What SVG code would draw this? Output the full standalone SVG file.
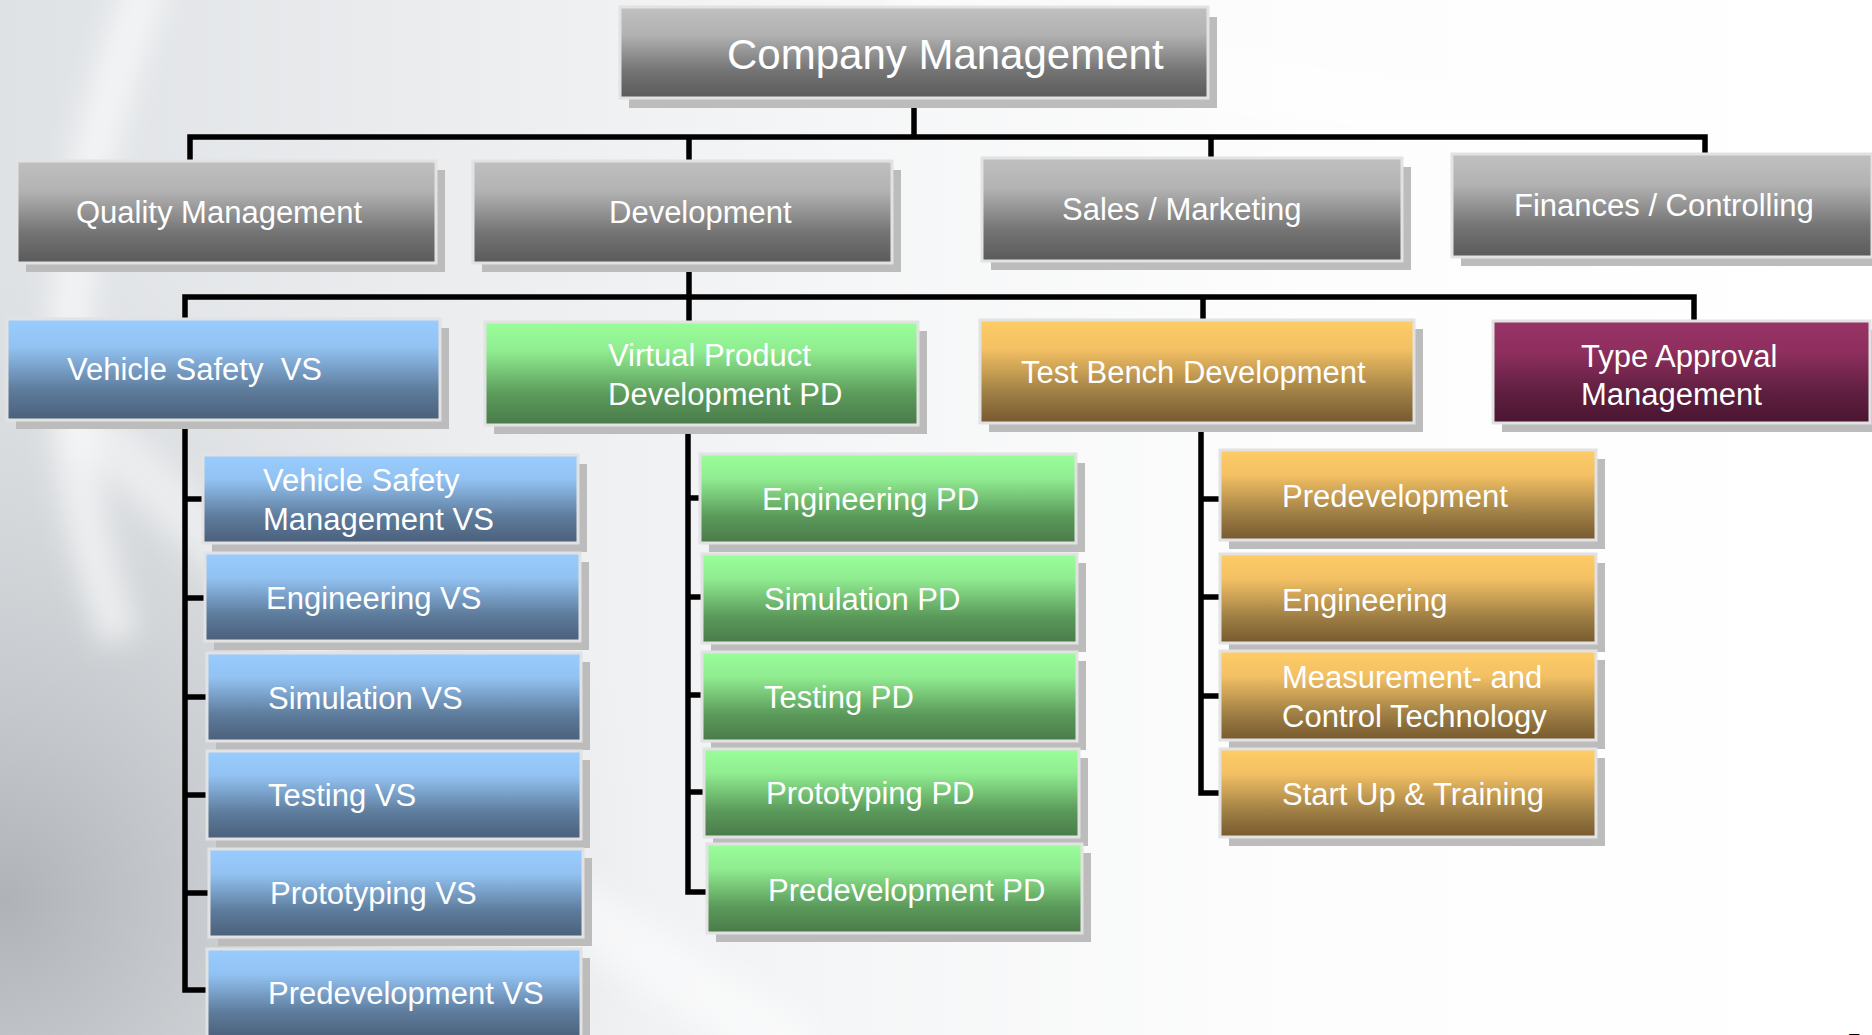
<svg xmlns="http://www.w3.org/2000/svg" width="1872" height="1035" viewBox="0 0 1872 1035">
<defs>
  <linearGradient id="bgx" x1="0" y1="0" x2="1" y2="0">
    <stop offset="0" stop-color="#dfe2e5"/>
    <stop offset="0.2" stop-color="#e9ebed"/>
    <stop offset="0.45" stop-color="#f5f6f7"/>
    <stop offset="0.7" stop-color="#fdfdfd"/>
    <stop offset="1" stop-color="#ffffff"/>
  </linearGradient>
  <radialGradient id="bgdark" cx="0" cy="900" r="650" gradientUnits="userSpaceOnUse">
    <stop offset="0" stop-color="#a9adb2" stop-opacity="0.9"/>
    <stop offset="0.45" stop-color="#bfc3c7" stop-opacity="0.55"/>
    <stop offset="1" stop-color="#d5d8db" stop-opacity="0"/>
  </radialGradient>
  <filter id="blur" x="-20%" y="-20%" width="140%" height="140%">
    <feGaussianBlur stdDeviation="14"/>
  </filter>
  <linearGradient id="gGray" x1="0" y1="0" x2="0" y2="1">
    <stop offset="0" stop-color="#c0c0c0"/>
    <stop offset="0.3" stop-color="#b2b2b2"/>
    <stop offset="0.7" stop-color="#747474"/>
    <stop offset="1" stop-color="#5a5a5a"/>
  </linearGradient>
  <linearGradient id="gBlue" x1="0" y1="0" x2="0" y2="1">
    <stop offset="0" stop-color="#99ccff"/>
    <stop offset="0.28" stop-color="#92c2f2"/>
    <stop offset="0.7" stop-color="#5e7c9c"/>
    <stop offset="1" stop-color="#4a5f7a"/>
  </linearGradient>
  <linearGradient id="gGreen" x1="0" y1="0" x2="0" y2="1">
    <stop offset="0" stop-color="#99ff99"/>
    <stop offset="0.28" stop-color="#90ec90"/>
    <stop offset="0.7" stop-color="#5b9a5b"/>
    <stop offset="1" stop-color="#4a7a4a"/>
  </linearGradient>
  <linearGradient id="gOrange" x1="0" y1="0" x2="0" y2="1">
    <stop offset="0" stop-color="#ffcc66"/>
    <stop offset="0.28" stop-color="#f3c064"/>
    <stop offset="0.7" stop-color="#a08045"/>
    <stop offset="1" stop-color="#76592f"/>
  </linearGradient>
  <linearGradient id="gMaroon" x1="0" y1="0" x2="0" y2="1">
    <stop offset="0" stop-color="#993366"/>
    <stop offset="0.3" stop-color="#8e2f5e"/>
    <stop offset="0.7" stop-color="#5f1f40"/>
    <stop offset="1" stop-color="#4a1530"/>
  </linearGradient>
  <style>
    .sh { fill: #bcbcbc; }
    .bx { stroke: #e2e2e2; stroke-width: 3; }
    .gray { fill: url(#gGray); }
    .blue { fill: url(#gBlue); }
    .green { fill: url(#gGreen); }
    .orange { fill: url(#gOrange); }
    .maroon { fill: url(#gMaroon); }
    text { font-family: "Liberation Sans", Arial, sans-serif; fill: #ffffff; font-size: 31px; }
    .big { font-size: 42px; }
    .conn { fill: none; stroke: #000000; stroke-width: 5.5; stroke-linejoin: miter; stroke-linecap: butt; }
  </style>
</defs>

<g id="background">
  <rect x="0" y="0" width="1872" height="1035" fill="url(#bgx)"/>
  <rect x="0" y="0" width="1872" height="1035" fill="url(#bgdark)"/>
  <g filter="url(#blur)" fill="none" stroke="#ffffff">
    <path d="M150 -20 C 60 200, 40 420, 120 640" stroke-width="40" stroke-opacity="0.6"/>
    <path d="M80 420 C 200 520, 320 640, 420 820" stroke-width="50" stroke-opacity="0.45"/>
    <path d="M560 900 C 650 960, 720 1000, 800 1060" stroke-width="60" stroke-opacity="0.5"/>
    <path d="M900 0 C 1000 40, 1200 80, 1500 120" stroke-width="60" stroke-opacity="0.4"/>
  </g>
</g>

<g id="connectors">
  <path class="conn" d="M914 98 V137"/>
  <path class="conn" d="M190 161 V137 H1705 V154"/>
  <path class="conn" d="M689 137 V161"/>
  <path class="conn" d="M1211 137 V158"/>
  <path class="conn" d="M689 263 V297"/>
  <path class="conn" d="M185 319 V297 H1694 V321"/>
  <path class="conn" d="M689 297 V322"/>
  <path class="conn" d="M1203 297 V320"/>
  <path class="conn" d="M185 420 V990 H207"/>
  <path class="conn" d="M185 499 H203 M185 598 H205 M185 697 H207 M185 795 H207 M185 893 H209"/>
  <path class="conn" d="M688 425 V892 H707"/>
  <path class="conn" d="M688 498 H700 M688 597 H702 M688 695 H702 M688 792 H704"/>
  <path class="conn" d="M1201 423 V793 H1220"/>
  <path class="conn" d="M1201 499 H1220 M1201 597 H1220 M1201 696 H1220"/>
</g>

<g id="node-company-management">
  <rect class="sh" x="629" y="17" width="588" height="91"/>
  <rect class="bx gray" x="620" y="7" width="588" height="91"/>
  <text class="big" x="727" y="69">Company Management</text>
</g>

<g id="node-quality-management">
  <rect class="sh" x="26" y="170" width="419" height="102"/>
  <rect class="bx gray" x="17" y="161" width="419" height="102"/>
  <text x="76" y="223">Quality Management</text>
</g>
<g id="node-development">
  <rect class="sh" x="482" y="170" width="419" height="102"/>
  <rect class="bx gray" x="473" y="161" width="419" height="102"/>
  <text x="609" y="223">Development</text>
</g>
<g id="node-sales-marketing">
  <rect class="sh" x="991" y="167" width="420" height="103"/>
  <rect class="bx gray" x="982" y="158" width="420" height="103"/>
  <text x="1062" y="220">Sales / Marketing</text>
</g>
<g id="node-finances-controlling">
  <rect class="sh" x="1461" y="163" width="420" height="103"/>
  <rect class="bx gray" x="1452" y="154" width="420" height="103"/>
  <text x="1514" y="216">Finances / Controlling</text>
</g>

<g id="node-vehicle-safety">
  <rect class="sh" x="16" y="328" width="433" height="101"/>
  <rect class="bx blue" x="7" y="319" width="433" height="101"/>
  <text x="67" y="380" xml:space="preserve">Vehicle Safety  VS</text>
</g>
<g id="node-virtual-product-development">
  <rect class="sh" x="494" y="331" width="433" height="103"/>
  <rect class="bx green" x="485" y="322" width="433" height="103"/>
  <text x="608" y="366">Virtual Product</text>
  <text x="608" y="405">Development PD</text>
</g>
<g id="node-test-bench-development">
  <rect class="sh" x="989" y="329" width="434" height="103"/>
  <rect class="bx orange" x="980" y="320" width="434" height="103"/>
  <text x="1021" y="383">Test Bench Development</text>
</g>
<g id="node-type-approval-management">
  <rect class="sh" x="1502" y="330" width="377" height="102"/>
  <rect class="bx maroon" x="1493" y="321" width="377" height="102"/>
  <text x="1581" y="367">Type Approval</text>
  <text x="1581" y="405">Management</text>
</g>

<g id="node-vs-management">
  <rect class="sh" x="212" y="464" width="375" height="88"/>
  <rect class="bx blue" x="203" y="455" width="375" height="88"/>
  <text x="263" y="491">Vehicle Safety</text>
  <text x="263" y="530">Management VS</text>
</g>
<g id="node-vs-engineering">
  <rect class="sh" x="214" y="562" width="375" height="88"/>
  <rect class="bx blue" x="205" y="553" width="375" height="88"/>
  <text x="266" y="609">Engineering VS</text>
</g>
<g id="node-vs-simulation">
  <rect class="sh" x="216" y="662" width="374" height="88"/>
  <rect class="bx blue" x="207" y="653" width="374" height="88"/>
  <text x="268" y="709">Simulation VS</text>
</g>
<g id="node-vs-testing">
  <rect class="sh" x="216" y="760" width="374" height="88"/>
  <rect class="bx blue" x="207" y="751" width="374" height="88"/>
  <text x="268" y="806">Testing VS</text>
</g>
<g id="node-vs-prototyping">
  <rect class="sh" x="218" y="858" width="374" height="88"/>
  <rect class="bx blue" x="209" y="849" width="374" height="88"/>
  <text x="270" y="904">Prototyping VS</text>
</g>
<g id="node-vs-predevelopment">
  <rect class="sh" x="216" y="958" width="374" height="90"/>
  <rect class="bx blue" x="207" y="949" width="374" height="90"/>
  <text x="268" y="1004">Predevelopment VS</text>
</g>

<g id="node-pd-engineering">
  <rect class="sh" x="709" y="463" width="376" height="89"/>
  <rect class="bx green" x="700" y="454" width="376" height="89"/>
  <text x="762" y="510">Engineering PD</text>
</g>
<g id="node-pd-simulation">
  <rect class="sh" x="711" y="563" width="375" height="89"/>
  <rect class="bx green" x="702" y="554" width="375" height="89"/>
  <text x="764" y="610">Simulation PD</text>
</g>
<g id="node-pd-testing">
  <rect class="sh" x="711" y="661" width="375" height="89"/>
  <rect class="bx green" x="702" y="652" width="375" height="89"/>
  <text x="764" y="708">Testing PD</text>
</g>
<g id="node-pd-prototyping">
  <rect class="sh" x="713" y="758" width="375" height="88"/>
  <rect class="bx green" x="704" y="749" width="375" height="88"/>
  <text x="766" y="804">Prototyping PD</text>
</g>
<g id="node-pd-predevelopment">
  <rect class="sh" x="716" y="853" width="375" height="89"/>
  <rect class="bx green" x="707" y="844" width="375" height="89"/>
  <text x="768" y="901">Predevelopment PD</text>
</g>

<g id="node-tb-predevelopment">
  <rect class="sh" x="1229" y="459" width="376" height="90"/>
  <rect class="bx orange" x="1220" y="450" width="376" height="90"/>
  <text x="1282" y="507">Predevelopment</text>
</g>
<g id="node-tb-engineering">
  <rect class="sh" x="1229" y="563" width="376" height="89"/>
  <rect class="bx orange" x="1220" y="554" width="376" height="89"/>
  <text x="1282" y="611">Engineering</text>
</g>
<g id="node-tb-measurement-control">
  <rect class="sh" x="1229" y="660" width="376" height="89"/>
  <rect class="bx orange" x="1220" y="651" width="376" height="89"/>
  <text x="1282" y="688">Measurement- and</text>
  <text x="1282" y="727">Control Technology</text>
</g>
<g id="node-tb-startup-training">
  <rect class="sh" x="1229" y="758" width="376" height="88"/>
  <rect class="bx orange" x="1220" y="749" width="376" height="88"/>
  <text x="1282" y="805">Start Up &amp; Training</text>
</g>

<text x="1847" y="1052" style="fill:#000000;font-size:26px">5</text>
</svg>
